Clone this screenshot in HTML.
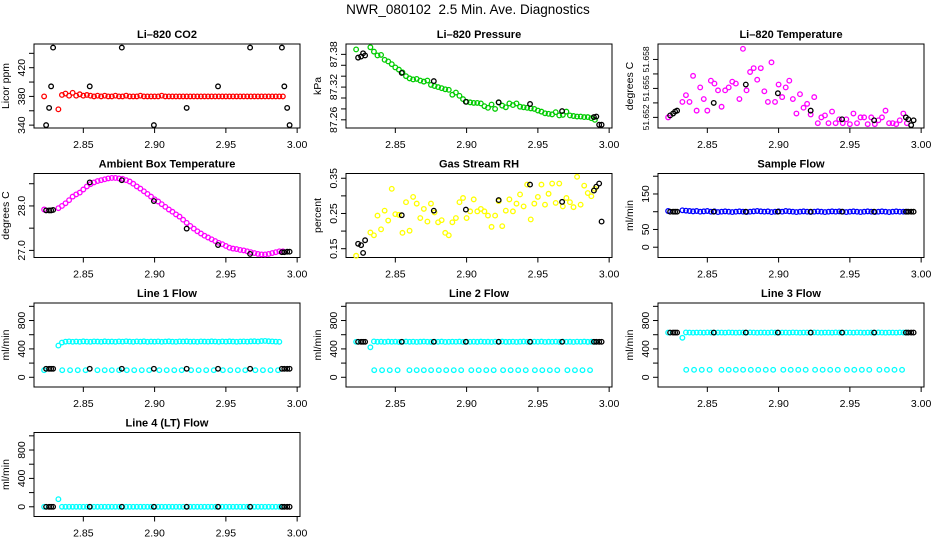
<!DOCTYPE html>
<html><head><meta charset="utf-8"><style>
html,body{margin:0;padding:0;background:#fff;}
svg{display:block;font-family:"Liberation Sans",sans-serif;}
</style></head><body>
<svg id="chart" width="936" height="540" viewBox="0 0 936 540" xmlns="http://www.w3.org/2000/svg">
<rect x="0" y="0" width="936" height="540" fill="#fff"/>
<text x="468" y="14" text-anchor="middle" font-size="13.5">NWR_080102&#160; 2.5 Min. Ave. Diagnostics</text>
</svg>
<script>
// shared time grid
const T = [2.8225,2.825,2.8275,2.83,2.8325,2.835,2.8375,2.84,2.8425,2.845,2.8475,2.85,2.8525,2.855,2.8575,2.86,2.8625,2.865,2.8675,2.87,2.8725,2.875,2.8775,2.88,2.8825,2.885,2.8875,2.89,2.8925,2.895,2.8975,2.90,2.9025,2.905,2.9075,2.91,2.9125,2.915,2.9175,2.92,2.9225,2.925,2.9275,2.93,2.9325,2.935,2.9375,2.94,2.9425,2.945,2.9475,2.95,2.9525,2.955,2.9575,2.96,2.9625,2.965,2.9675,2.97,2.9725,2.975,2.9775,2.98,2.9825,2.985,2.9875,2.99];
const TB = [2.8239,2.826,2.8274,2.8288,2.8545,2.877,2.8995,2.9225,2.9445,2.967,2.9893,2.991,2.993,2.9947];
const TL = [2.8352,2.8407,2.8461,2.8516,2.8599,2.8650,2.8700,2.8751,2.8805,2.8857,2.8910,2.8962,2.9033,2.9085,2.9138,2.9190,2.9256,2.9309,2.9362,2.9415,2.9479,2.9531,2.9584,2.9636,2.9707,2.9760,2.9813,2.9866];
const xTicks = [2.85,2.90,2.95,3.00];
const xTickLabels = ["2.85","2.90","2.95","3.00"];

const co2 = [380,null,null,null,362,382,384,381,385,381,383,381,382,381,380,381,380,381,380,380,381,380,380,381,380,380,380,381,380,380,380,380,380,381,380,380,380,380,380,380,380,380,380,380,380,380,380,380,380,380,380,380,380,380,380,380,380,380,380,380,380,380,380,380,380,380,380,380];
const co2Black = [340,364,394,448,394,448,340,364,394,448,448,394,364,340];

const pres = [87.389,null,null,null,87.393,87.385,87.378,87.379,87.370,87.367,87.362,87.356,87.352,87.347,87.340,87.336,87.334,87.335,87.332,87.330,87.332,87.324,87.322,87.320,87.318,87.316,87.315,87.306,87.310,87.304,87.298,87.293,87.292,87.291,87.291,87.290,87.285,87.282,87.288,87.280,87.292,87.286,87.283,87.290,87.287,87.290,87.284,87.283,87.282,87.281,87.280,87.277,87.275,87.272,87.271,87.270,87.274,87.268,87.269,87.275,87.268,87.267,87.266,87.266,87.265,87.265,87.263,87.260];
const presBlack = [87.374,87.376,87.382,87.378,87.346,87.331,87.293,87.292,87.289,87.276,87.265,87.266,87.251,87.251];

const ltemp = [51.652,null,null,null,51.6536,51.6543,51.6536,51.6563,51.6527,51.6551,51.6539,51.6527,51.6558,51.6555,51.6548,51.6531,51.6548,51.6551,51.6557,51.6555,51.6539,51.6591,51.6548,51.6567,51.6571,51.6559,51.6571,51.6547,51.6536,51.6577,51.6536,51.6554,51.6541,51.6551,51.6558,51.6539,51.6524,51.6544,51.6530,51.6534,51.6523,51.6541,51.6514,51.6520,51.6522,51.6514,51.6526,51.6514,51.6518,51.6514,51.6518,51.6513,51.6524,51.6514,51.6520,51.6520,51.6513,51.6520,51.6513,51.6517,51.6520,51.6527,51.6514,51.6514,51.6513,51.6517,51.6524,51.6514];
const ltempBlack = [51.6522,51.6524,51.6526,51.6527,51.6535,51.6554,51.6545,51.6527,51.6518,51.6517,51.652,51.6518,51.6512,51.6517];

const amb = [27.92,null,null,null,27.95,28.00,28.06,28.13,28.21,28.26,28.30,28.37,28.44,28.49,28.53,28.56,28.58,28.60,28.62,28.63,28.63,28.62,28.61,28.58,28.55,28.50,28.44,28.39,28.33,28.27,28.21,28.15,28.10,28.04,27.98,27.92,27.87,27.81,27.76,27.69,27.62,27.55,27.49,27.43,27.38,27.33,27.29,27.25,27.21,27.17,27.14,27.10,27.06,27.04,27.03,27.01,27.00,26.98,26.96,26.94,26.92,26.91,26.91,26.92,26.94,26.96,26.98,26.98];
const ambBlack = [27.90,27.90,27.90,27.91,28.53,28.58,28.11,27.49,27.12,26.92,26.96,26.96,26.97,26.97];

const rh = [0.13,null,null,null,0.196,0.188,0.244,0.205,0.258,0.230,0.320,0.248,0.246,0.195,0.282,0.201,0.297,0.278,0.237,0.263,0.227,0.278,0.253,0.225,0.231,0.195,0.188,0.225,0.237,0.282,0.294,0.237,0.256,0.290,0.256,0.263,0.256,0.244,0.212,0.244,0.285,0.214,0.258,0.290,0.256,0.278,0.304,0.270,0.332,0.233,0.278,0.297,0.332,0.275,0.306,0.335,0.280,0.335,0.270,0.294,0.282,0.268,0.354,0.275,0.329,0.308,0.299,0.320];
const rhBlack = [0.164,0.16,0.138,0.174,0.245,0.258,0.261,0.288,0.332,0.283,0.315,0.326,0.335,0.227];

const sflow = [102,null,null,null,104,103,102,101,102,100,101,102,100,101,99,100,101,100,99,100,101,100,99,100,101,102,101,100,101,99,100,101,100,102,101,100,99,100,101,100,99,100,101,100,99,100,101,100,101,100,99,100,101,100,99,100,101,100,99,100,101,100,99,100,101,100,100,100];
const sflowBlack = [100,100,100,100,100,100,100,100,100,100,100,100,100,100];

const l1up = [100,null,null,null,447,490,502,505,500,504,500,506,502,500,505,503,500,506,502,504,500,505,502,507,503,500,505,502,506,500,504,502,505,500,503,506,502,500,505,503,506,502,504,500,505,503,502,506,504,500,505,502,506,503,500,504,505,502,506,508,503,510,512,508,505,502,500,null];
const l1low = [100,100,100,100,100,100,100,100,100,100,100,100,100,100,100,100,100,100,100,100,100,100,100,100,100,100,100,100];
const l1Black = [120,120,120,120,120,120,120,120,120,120,120,120,120,120];

const l2up = [500,null,null,null,423,505,500,502,498,503,500,502,498,500,503,500,502,498,501,503,500,499,502,500,503,498,500,502,500,503,498,501,500,502,499,503,500,501,498,502,500,503,499,500,502,498,501,503,500,499,502,500,503,498,501,500,502,499,503,500,501,498,502,500,503,499,501,500];
const l2low = [100,100,100,100,100,100,100,100,100,100,100,100,100,100,100,100,100,100,100,100,100,100,100,100,100,100,100,100];
const l2Black = [500,500,500,500,500,500,500,500,500,500,500,500,500,500];

const l3up = [630,null,null,null,557,632,630,628,631,630,629,632,630,628,631,630,629,632,630,628,631,630,629,632,630,628,631,630,629,632,630,628,631,630,629,632,630,628,631,630,629,632,630,628,631,630,629,632,630,628,631,630,629,632,630,628,631,630,629,632,630,628,631,630,629,632,630,630];
const l3low = [105,105,105,105,105,105,105,105,105,105,105,105,105,105,105,105,105,105,105,105,105,105,105,105,105,105,105,105];
const l3Black = [630,630,630,630,630,630,630,630,630,630,630,630,630,630];

const l4 = [0,null,null,null,107,0,0,0,0,0,0,0,0,0,0,0,0,0,0,0,0,0,0,0,0,0,0,0,0,0,0,0,0,0,0,0,0,0,0,0,0,0,0,0,0,0,0,0,0,0,0,0,0,0,0,0,0,0,0,0,0,0,0,0,0,0,0,0];
const l4Black = [0,0,0,0,0,0,0,0,0,0,0,0,0,0];

const flowTicks = [0,200,400,600,800,1000];
const flowLabels = ["0","","400","","800",""];

const panels = [
 {name:"li820-co2",title:"Li\u2013820 CO2",ylab:"Licor ppm",col:0,row:0,ymin:336,ymax:453,ticks:[340,360,380,400,420,440],labels:["340","","380","","420",""],series:[[T,co2,"#ff0000"],[TB,co2Black,"#000"]]},
 {name:"li820-pressure",title:"Li\u2013820 Pressure",ylab:"kPa",col:1,row:0,ymin:87.245,ymax:87.399,ticks:[87.26,87.28,87.30,87.32,87.34,87.36,87.38],labels:["87.26","","","87.32","","","87.38"],series:[[T,pres,"#00cc00"],[TB,presBlack,"#000"]]},
 {name:"li820-temperature",title:"Li\u2013820 Temperature",ylab:"degrees C",col:2,row:0,ymin:51.6509,ymax:51.6596,ticks:[51.652,51.6535,51.655,51.6565,51.658],labels:["51.652","","51.655","","51.658"],series:[[T,ltemp,"#ff00ff"],[TB,ltempBlack,"#000"]]},
 {name:"ambient-box-temperature",title:"Ambient Box Temperature",ylab:"degrees C",col:0,row:1,ymin:26.84,ymax:28.73,ticks:[27.0,27.5,28.0,28.5],labels:["27.0","","28.0",""],series:[[T,amb,"#ff00ff"],[TB,ambBlack,"#000"]]},
 {name:"gas-stream-rh",title:"Gas Stream RH",ylab:"percent",col:1,row:1,ymin:0.125,ymax:0.3635,ticks:[0.15,0.20,0.25,0.30,0.35],labels:["0.15","","0.25","","0.35"],series:[[T,rh,"#ffff00"],[TB,rhBlack,"#000"]]},
 {name:"sample-flow",title:"Sample Flow",ylab:"ml/min",col:2,row:1,ymin:-29,ymax:207.7,ticks:[0,50,100,150,200],labels:["0","50","","150",""],series:[[T,sflow,"#0000ff"],[TB,sflowBlack,"#000"]]},
 {name:"line1-flow",title:"Line 1 Flow",ylab:"ml/min",col:0,row:2,ymin:-137,ymax:1047,ticks:flowTicks,labels:flowLabels,series:[[T,l1up,"#00ffff"],[TL,l1low,"#00ffff"],[TB,l1Black,"#000"]]},
 {name:"line2-flow",title:"Line 2 Flow",ylab:"ml/min",col:1,row:2,ymin:-137,ymax:1047,ticks:flowTicks,labels:flowLabels,series:[[T,l2up,"#00ffff"],[TL,l2low,"#00ffff"],[TB,l2Black,"#000"]]},
 {name:"line3-flow",title:"Line 3 Flow",ylab:"ml/min",col:2,row:2,ymin:-137,ymax:1047,ticks:flowTicks,labels:flowLabels,series:[[T,l3up,"#00ffff"],[TL,l3low,"#00ffff"],[TB,l3Black,"#000"]]},
 {name:"line4-flow",title:"Line 4 (LT) Flow",ylab:"ml/min",col:0,row:3,ymin:-137,ymax:1047,ticks:flowTicks,labels:flowLabels,series:[[T,l4,"#00ffff"],[TB,l4Black,"#000"]]}
];

const NS = "http://www.w3.org/2000/svg";
const svg = document.getElementById("chart");
const XMIN = 2.8154, XMAX = 3.002, W = 266, H = 84;
function mk(tag, attrs, parent){
  const e = document.createElementNS(NS, tag);
  for (const k in attrs) e.setAttribute(k, attrs[k]);
  parent.appendChild(e);
  return e;
}
panels.forEach(p => {
  const x0 = 34 + 312*p.col, y0 = 44 + 129.5*p.row;
  const sx = v => x0 + (v - XMIN)/(XMAX - XMIN)*W;
  const sy = v => y0 + H - (v - p.ymin)/(p.ymax - p.ymin)*H;
  const g = mk("g", {}, svg);
  
  
  const t = mk("text", {x: x0 + W/2, y: y0 - 6, "text-anchor":"middle", "font-size":"11", "font-weight":"bold"}, g);
  
  
  t.textContent = p.title;
  const box = mk("rect", {x:x0, y:y0, width:W, height:H, fill:"none", stroke:"#000", "stroke-width":"1"}, g);
  
  
  xTicks.forEach((v,i) => {
    const xx = sx(v);
    const tk = mk("line", {x1:xx, x2:xx, y1:y0+H, y2:y0+H+5, stroke:"#000"}, g);
    
    
    const tl = mk("text", {x:xx, y:y0+H+20, "text-anchor":"middle", "font-size":"10.5"}, g);
    
    
    tl.textContent = xTickLabels[i];
  });
  p.ticks.forEach((v,i) => {
    const yy = sy(v);
    const tk = mk("line", {x1:x0-5, x2:x0, y1:yy, y2:yy, stroke:"#000"}, g);
    
    
    if (p.labels[i]) {
      const fs = p.labels[i].length > 5 ? "8.5" : "10.5";
      const tl = mk("text", {x:x0-9, y:yy, "text-anchor":"middle", "font-size":fs, transform:`rotate(-90 ${x0-9} ${yy})`}, g);
      
      
      tl.textContent = p.labels[i];
    }
  });
  const yl = mk("text", {x:x0-25, y:y0+H/2, "text-anchor":"middle", "font-size":"10.5", transform:`rotate(-90 ${x0-25} ${y0+H/2})`}, g);
  
  
  yl.textContent = p.ylab;
  p.series.forEach(s => {
    const [xs, ys, col] = s;
    const sg = mk("g", {fill:"none", stroke:col, "stroke-width":"1.3"}, g);
    
    
    ys.forEach((v,i) => {
      if (v === null || v === undefined) return;
      const c = mk("circle", {cx:sx(xs[i]), cy:sy(v), r:"2.3"}, sg);
      
      
    });
  });
});
</script>
</body></html>
